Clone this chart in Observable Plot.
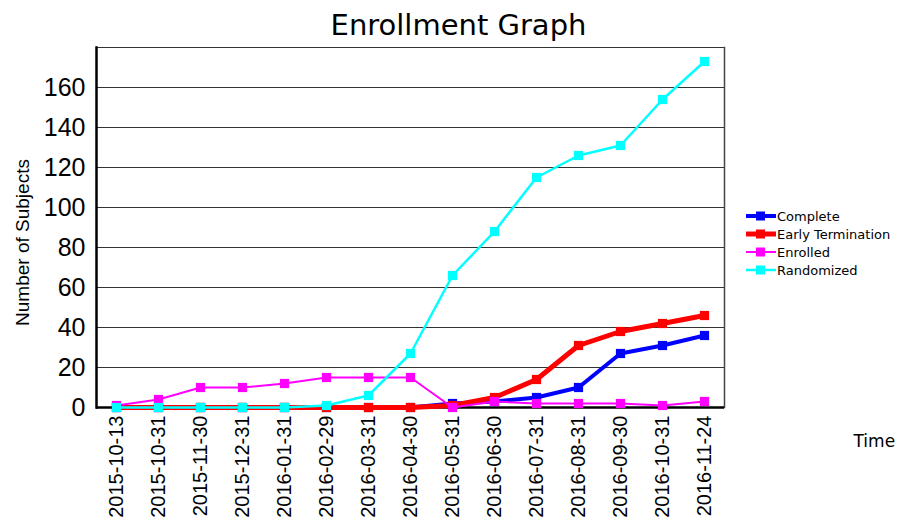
<!DOCTYPE html>
<html>
<head>
<meta charset="utf-8">
<script src="https://cdn.jsdelivr.net/npm/d3@7"></script>
<script src="https://cdn.jsdelivr.net/npm/@observablehq/plot@0.6"></script>
<style>
  html, body { margin: 0; padding: 0; background: #fff; }
  #wrap { position: relative; width: 898px; height: 521px; }
  #legend { position: absolute; left: 745px; top: 207px; font-family: "DejaVu Sans", Verdana, sans-serif; font-size: 13px; color: #000; }
  #legend .row { display: flex; align-items: center; height: 18px; }
  #legend svg { display: block; margin-right: 1px; }
</style>
</head>
<body>
<div id="wrap"></div>
<script>
const dates = ["2015-10-13","2015-10-31","2015-11-30","2015-12-31","2016-01-31","2016-02-29","2016-03-31","2016-04-30","2016-05-31","2016-06-30","2016-07-31","2016-08-31","2016-09-30","2016-10-31","2016-11-24"];
const complete        = [0, 0, 0, 0, 0, 0, 0, 0, 2, 3, 5, 10, 27, 31, 36];
const earlyTermination = [0, 0, 0, 0, 0, 0, 0, 0, 1, 5, 14, 31, 38, 42, 46];
const enrolled        = [1, 4, 10, 10, 12, 15, 15, 15, 0, 3, 2, 2, 2, 1, 3];
const randomized      = [0, 0, 0, 0, 0, 1, 6, 27, 66, 88, 115, 126, 131, 154, 173];
const seriesNames  = ["Complete", "Early Termination", "Enrolled", "Randomized"];
const seriesColors = ["#0000ff", "#ff0000", "#ff00ff", "#00ffff"];
const seriesWidths = [4, 5, 2, 2.5];
const yTicks = [0, 20, 40, 60, 80, 100, 120, 140, 160];
const gridLines = [20, 40, 60, 80, 100, 120, 140, 160, 180];

const seriesValues = [complete, earlyTermination, enrolled, randomized];
const rows = [];
seriesNames.forEach((s, i) => dates.forEach((d, j) => rows.push({series: s, date: d, value: seriesValues[i][j]})));

const marks = [
  Plot.ruleY(gridLines, {stroke: "#333", strokeWidth: 1.2}),
  Plot.frame({anchor: "right", stroke: "#444", strokeWidth: 1.5}),
  Plot.ruleY([0], {stroke: "#000", strokeWidth: 2.5}),
  Plot.frame({anchor: "left", stroke: "#000", strokeWidth: 2.5}),
  Plot.axisY({ticks: yTicks, tickSize: 0, tickPadding: 11, fontSize: 25, fontFamily: "Liberation Sans, Arial, sans-serif", label: null}),
  Plot.axisX({tickRotate: -90, tickSize: 0, tickPadding: 8, fontSize: 20, fontFamily: "Liberation Sans, Arial, sans-serif", label: null}),
];
seriesNames.forEach((s, i) => {
  const data = rows.filter(r => r.series === s);
  marks.push(Plot.line(data, {x: "date", y: "value", stroke: seriesColors[i], strokeWidth: seriesWidths[i], strokeLinejoin: "round"}));
  marks.push(Plot.dot(data, {x: "date", y: "value", symbol: "square", r: 5.2, fill: seriesColors[i], stroke: "none"}));
});
marks.push(
  Plot.text(["Enrollment Graph"], {frameAnchor: "top", dx: 48, dy: -33, fontSize: 29, fontFamily: "DejaVu Sans, Verdana, sans-serif", fill: "#000"}),
  Plot.text(["Number of Subjects"], {frameAnchor: "left", dx: -74, dy: 15, rotate: -90, textAnchor: "middle", fontSize: 19, fontFamily: "Liberation Sans, Arial, sans-serif", fill: "#000"}),
  Plot.text(["Time"], {frameAnchor: "bottom-right", dx: 129, dy: 39, textAnchor: "start", fontSize: 17, fontFamily: "DejaVu Sans, Verdana, sans-serif", fill: "#000"})
);

const chart = Plot.plot({
  width: 898,
  height: 521,
  marginLeft: 96,
  marginRight: 174,
  marginTop: 47,
  marginBottom: 114,
  style: {background: "#fff", overflow: "visible"},
  x: {type: "point", domain: dates, padding: 0.476},
  y: {domain: [0, 180]},
  marks
});
const wrap = document.getElementById("wrap");
wrap.appendChild(chart);

const legend = document.createElement("div");
legend.id = "legend";
seriesNames.forEach((s, i) => {
  const row = document.createElement("div");
  row.className = "row";
  const ns = "http://www.w3.org/2000/svg";
  const sw = document.createElementNS(ns, "svg");
  sw.setAttribute("width", "31"); sw.setAttribute("height", "14");
  const ln = document.createElementNS(ns, "line");
  ln.setAttribute("x1", "1"); ln.setAttribute("x2", "31"); ln.setAttribute("y1", "7"); ln.setAttribute("y2", "7");
  ln.setAttribute("stroke", seriesColors[i]); ln.setAttribute("stroke-width", seriesWidths[i]);
  const rc = document.createElementNS(ns, "rect");
  rc.setAttribute("x", "11"); rc.setAttribute("y", "2.5"); rc.setAttribute("width", "9"); rc.setAttribute("height", "9");
  rc.setAttribute("fill", seriesColors[i]);
  sw.appendChild(ln); sw.appendChild(rc);
  const tx = document.createElement("span");
  tx.textContent = s;
  row.appendChild(sw); row.appendChild(tx);
  legend.appendChild(row);
});
wrap.appendChild(legend);
</script>
</body>
</html>
